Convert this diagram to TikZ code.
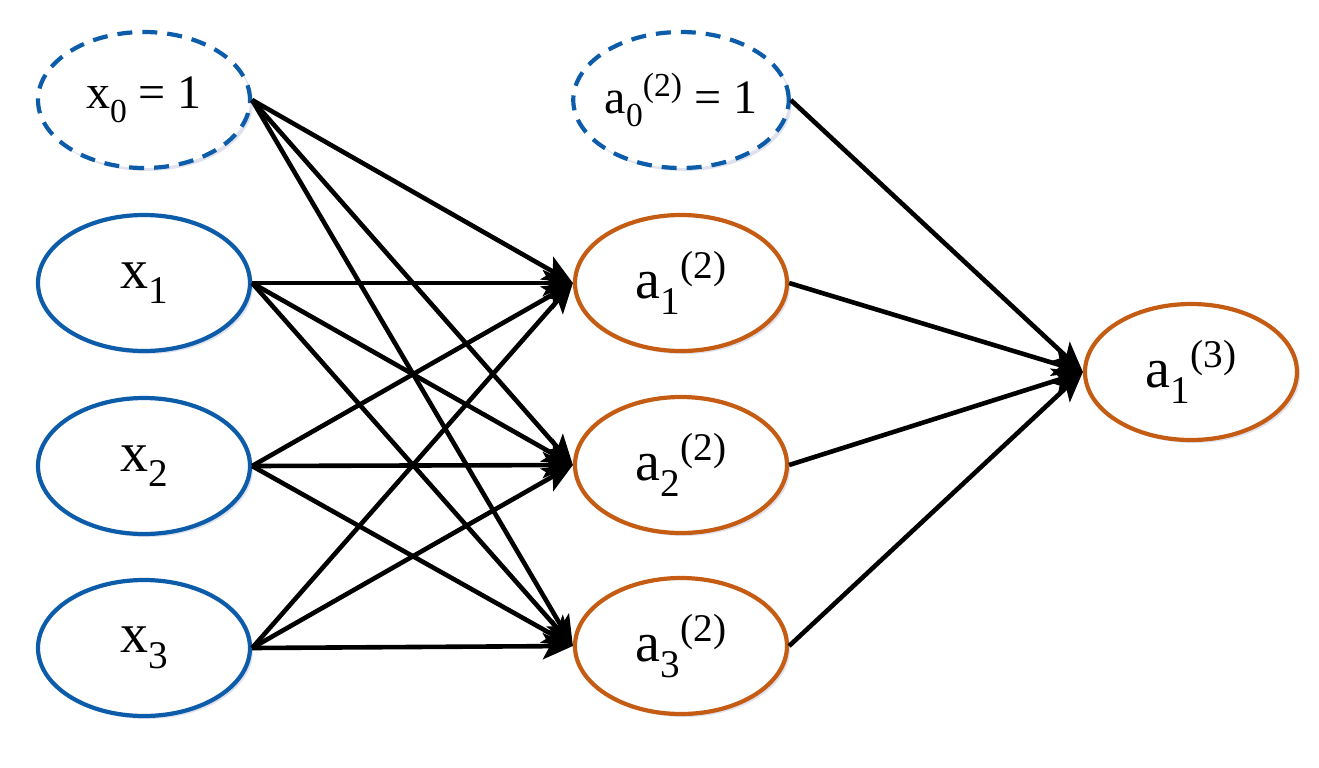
\documentclass[tikz,border=0pt]{standalone}
\usepackage{fontspec}
\newfontfamily\tms{LiberationSerif}[Extension=.ttf, UprightFont=*-Regular]
\usepackage{graphicx}
\usetikzlibrary{arrows.meta,shadows,shapes.geometric}
\definecolor{nblue}{RGB}{12,92,170}
\definecolor{norange}{RGB}{197,92,20}
\definecolor{shade}{RGB}{150,160,200}
\newcommand\lo[1]{\raisebox{-0.28em}{\scalebox{0.7}{#1}}}
\newcommand\hi[1]{\raisebox{0.36em}{\scalebox{0.7}{#1}}}
\tikzset{
  neuron/.style={ellipse, minimum width=106pt, minimum height=68pt, inner sep=0pt,
    line width=2.1pt, fill=white,
    drop shadow={shadow xshift=1.5pt, shadow yshift=-1.5pt, opacity=0.3, fill=shade}},
  inp/.style={neuron, draw=nblue, font=\tms\fontsize{28}{30}\selectfont},
  bias/.style={neuron, draw=nblue, dash pattern=on 7.5pt off 5pt, font=\tms\fontsize{24}{26}\selectfont},
  hid/.style={neuron, draw=norange, font=\tms\fontsize{28}{30}\selectfont},
  conn/.style={line width=2.3pt, -{Stealth[length=15pt,width=13pt,inset=3.5pt]}}
}
\begin{document}
\begin{tikzpicture}[x=0.5pt,y=-0.5pt]
\useasboundingbox (0,0) rectangle (1319,767);
\node[bias] (x0) at (144,100) {x\lo{0} = 1};
\node[inp] (x1) at (144,283) {x\lo{1}};
\node[inp] (x2) at (144,466) {x\lo{2}};
\node[inp] (x3) at (144,648) {x\lo{3}};
\node[bias] (a0) at (681,100) {a\lo{0}\hi{(2)} = 1};
\node[hid] (a1) at (681,283) {a\lo{1}\hi{(2)}};
\node[hid] (a2) at (681,465) {a\lo{2}\hi{(2)}};
\node[hid] (a3) at (681,646) {a\lo{3}\hi{(2)}};
\node[hid] (o1) at (1191,372) {a\lo{1}\hi{(3)}};
\foreach \s in {x0,x1,x2,x3}
  \foreach \t in {a1,a2,a3}
    \draw[conn] (\s.east) -- (\t.west);
\foreach \s in {a0,a1,a2,a3}
  \draw[conn] (\s.east) -- (o1.west);
\end{tikzpicture}
\end{document}
